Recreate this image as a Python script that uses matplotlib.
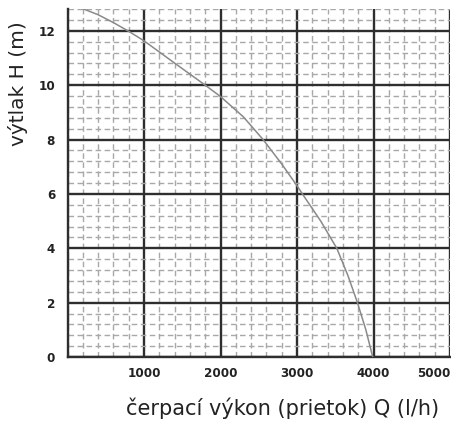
import matplotlib
matplotlib.use("Agg")
import matplotlib.pyplot as plt
from matplotlib.ticker import MultipleLocator

Q = [200, 400, 600, 800, 1000, 1400, 1800, 2000, 2300, 2556, 2800, 3000, 3070, 3310, 3520, 3665, 3790, 3900, 3990]
H = [12.81, 12.59, 12.3, 11.98, 11.63, 10.81, 10.0, 9.58, 8.83, 8.0, 7.1, 6.3, 6.0, 5.0, 4.0, 3.0, 2.0, 1.0, 0.0]

xticks = [1000, 2000, 3000, 4000, 5000]
yticks = [0, 2, 4, 6, 8, 10, 12]
xlabel = "čerpací výkon (prietok) Q (l/h)"
ylabel = "výtlak H (m)"

W, Hh = 452, 421
fig = plt.figure(figsize=(W / 100, Hh / 100), dpi=100)
ax = fig.add_axes([67.5 / W, 1 - 357 / Hh, (450 - 67.5) / W, (357 - 9) / Hh])

ax.set_xlim(0, 5000)
ax.set_ylim(0, 12.8)
ax.xaxis.set_minor_locator(MultipleLocator(200))
ax.yaxis.set_minor_locator(MultipleLocator(0.4))

ax.grid(which="minor", color="#a8a8a8", linestyle=(0, (4, 2.5)), linewidth=1.0)
ax.grid(which="major", color="#2e2e2e", linestyle="-", linewidth=1.7)
ax.set_axisbelow(True)

ax.plot(Q, H, color="#8a8a8a", linewidth=1.1, zorder=3)

for s in ["top", "right"]:
    ax.spines[s].set_visible(False)
for s in ["left", "bottom"]:
    ax.spines[s].set_color("#2e2e2e")
    ax.spines[s].set_linewidth(1.7)

ax.set_xticks(xticks)
ax.set_yticks(yticks)
ax.set_xticklabels([str(v) for v in xticks])
ax.set_yticklabels([str(v) for v in yticks])
ax.tick_params(which="both", length=0)
ax.tick_params(axis="x", pad=7)
ax.tick_params(axis="y", pad=9)
for lab in ax.get_xticklabels() + ax.get_yticklabels():
    lab.set_fontfamily(["DejaVu Sans"])
    lab.set_fontstretch("condensed")
    lab.set_fontweight("bold")
    lab.set_fontsize(9.5)
    lab.set_color("#222222")
ax.get_xticklabels()[-1].set_horizontalalignment("right")
ax.get_xticklabels()[-1].set_x(5000)

fig.text(283 / W, 1 - 408 / Hh, xlabel, ha="center", va="center",
         fontsize=15, family=["DejaVu Sans"], color="#222222")
fig.text(18 / W, 1 - 84 / Hh, ylabel, ha="center", va="center", rotation=90,
         fontsize=14.5, family=["DejaVu Sans"], color="#222222")

fig.savefig("out.png", dpi=100)
